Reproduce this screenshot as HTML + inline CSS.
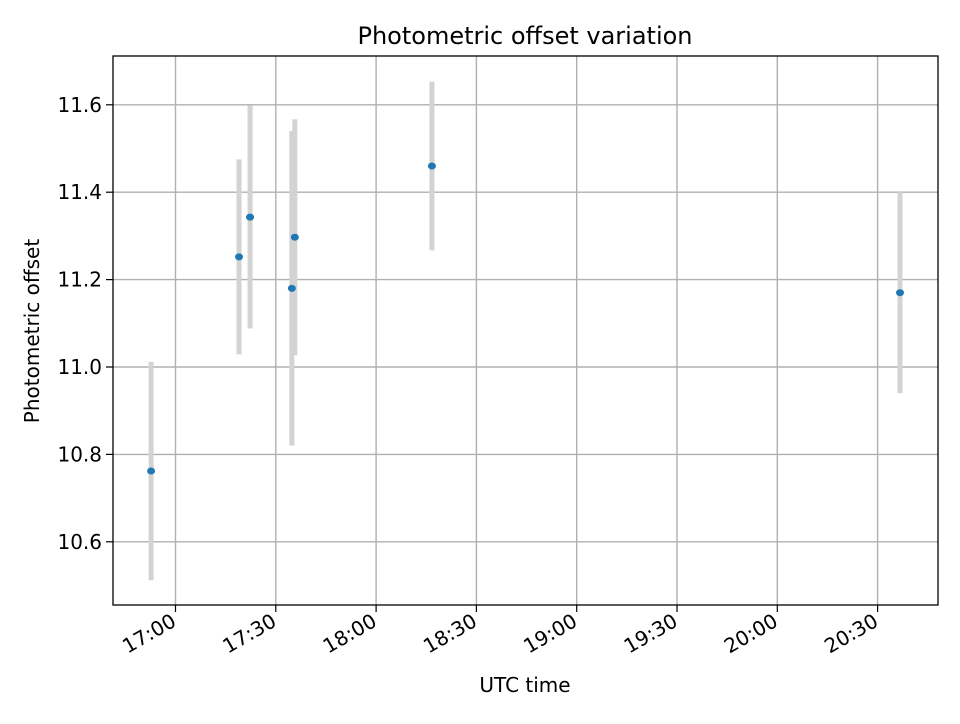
<!DOCTYPE html>
<html><head><meta charset="utf-8"><style>
body{margin:0;background:#fff;font-family:"DejaVu Sans","Liberation Sans",sans-serif}
svg text{font-family:"DejaVu Sans","Liberation Sans",sans-serif;fill:#000}
</style></head><body>
<svg id="chart" width="960" height="720">
<rect width="960" height="720" fill="#fff"/>
<g id="grid"></g><g id="err"></g><g id="pts"></g><g id="axes"></g>
</svg>
<script>
// minutes after 17:00 UTC
const times=[-7.3,19.0,22.3,34.8,35.7,76.7,216.7];
const offsets=[10.762,11.252,11.343,11.18,11.297,11.46,11.17];
const errors=[0.25,0.223,0.255,0.36,0.27,0.193,0.23];
const xTickMins=[0,30,60,90,120,150,180,210];
const xTickLabels=["17:00","17:30","18:00","18:30","19:00","19:30","20:00","20:30"];
const yTicks=[10.6,10.8,11.0,11.2,11.4,11.6];
const L=113,R=938,T=56,B=605;
const x=m=>175.5+m*(100.3/30);
const y=v=>367-(v-11.0)*(87.4/0.2);
const NS="http://www.w3.org/2000/svg";
function mk(tag,attrs,parent,txt){const e=document.createElementNS(NS,tag);for(const k in attrs)e.setAttribute(k,attrs[k]);if(txt!==undefined)e.textContent=txt;parent.appendChild(e);return e;}
const grid=document.getElementById('grid'),axes=document.getElementById('axes'),errG=document.getElementById('err'),pts=document.getElementById('pts');
xTickMins.forEach((m,i)=>{const px=x(m);
 const g=mk('line',{x1:px,x2:px,y1:T,y2:B,stroke:'#b0b0b0','stroke-width':1.4},grid);
 
 
 mk('line',{x1:px,x2:px,y1:B,y2:B+7,stroke:'#000','stroke-width':1.2},axes);
 const t=mk('text',{x:px+2,y:B+20,'text-anchor':'end',transform:`rotate(-30 ${px+2} ${B+20})`},axes,xTickLabels[i]);
 t.style.fontSize='20px';
 
 
});
yTicks.forEach(v=>{const py=y(v);
 const g=mk('line',{x1:L,x2:R,y1:py,y2:py,stroke:'#b0b0b0','stroke-width':1.4},grid);
 
 
 mk('line',{x1:L-7,x2:L,y1:py,y2:py,stroke:'#000','stroke-width':1.2},axes);
 const t=mk('text',{x:L-11,y:py+7,'text-anchor':'end'},axes,v.toFixed(1));
 t.style.fontSize='20px';
 
 
});
times.forEach((m,i)=>{const px=x(m);
 const e=mk('line',{x1:px,x2:px,y1:y(offsets[i]+errors[i]),y2:y(offsets[i]-errors[i]),stroke:'#d3d3d3','stroke-width':5},errG);
 
 
 const c=mk('ellipse',{cx:px,cy:y(offsets[i]),rx:4,ry:3.5,fill:'#1f77b4'},pts);
 
 
});
const fr=mk('rect',{x:L,y:T,width:R-L,height:B-T,fill:'none',stroke:'#000','stroke-width':1.3},axes);


const ti=mk('text',{x:525,y:44,'text-anchor':'middle'},axes,'Photometric offset variation');
ti.style.fontSize='24px';


const xl=mk('text',{x:525,y:692,'text-anchor':'middle'},axes,'UTC time');
xl.style.fontSize='20px';


const yl=mk('text',{x:39,y:331,'text-anchor':'middle',transform:'rotate(-90 39 331)'},axes,'Photometric offset');
yl.style.fontSize='20px';


</script>
</body></html>
